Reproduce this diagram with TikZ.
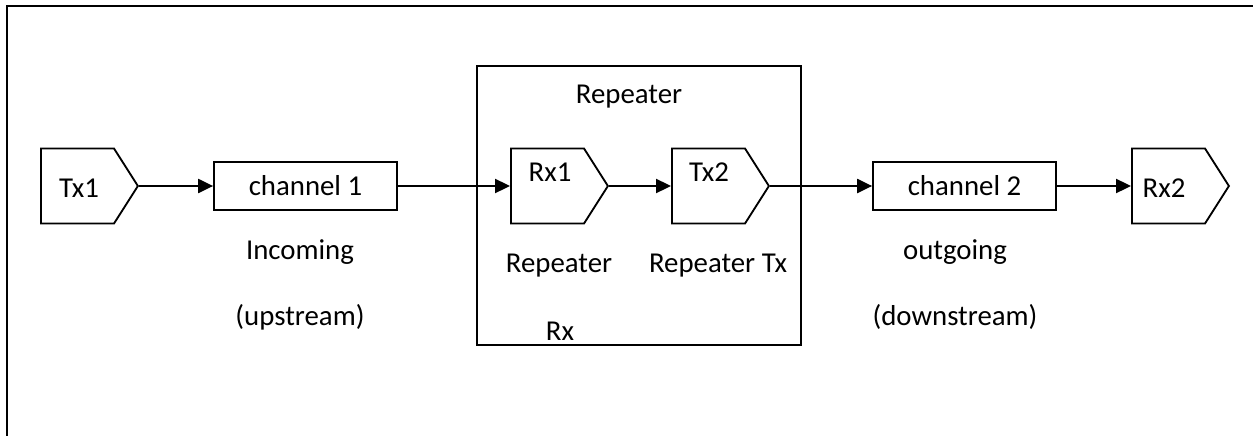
\documentclass[tikz,border=0pt]{standalone}
\usepackage{fontspec}
\setmainfont{Carlito}
\usetikzlibrary{arrows.meta,shapes.symbols}
\newcommand{\lblfont}{\fontsize{16.4}{19.7}\selectfont}

\begin{document}
\begin{tikzpicture}[x=0.02cm,y=-0.02cm,
 sig/.style={signal,signal to=east,signal pointer angle=115,draw,line width=1.05pt,inner sep=0pt,minimum width=1.94cm,minimum height=1.5cm,anchor=west},
 chan/.style={draw,line width=1.05pt,minimum width=3.66cm,minimum height=0.97cm,inner sep=0pt,font=\lblfont},
 txt/.style={anchor=base,inner sep=0pt,font=\lblfont},
 link/.style={line width=1.05pt,-{Triangle[length=8.5pt,width=8pt]}}]
\useasboundingbox (0,0) rectangle (1253,436);
\draw[line width=1.25pt] (1253,6) -- (7,6) -- (7,436);

\node[draw,line width=1.05pt,minimum width=6.48cm,minimum height=5.58cm] (rep) at (639,205.5) {};
\node[txt] (reptitle) at (629,103) {Repeater};

\node[sig] (tx1) at (40,186) {};
\node[chan] (ch1) at (305.5,186) {channel 1};
\node[sig] (rx1) at (510,186) {};
\node[sig] (tx2) at (671,186) {};
\node[chan] (ch2) at (964.5,186) {channel 2};
\node[sig] (rx2) at (1131,186) {};

\node[txt] (tx1l) at (79,197) {Tx1};
\node[txt] (rx1l) at (550,181) {Rx1};
\node[txt] (tx2l) at (709,181) {Tx2};
\node[txt] (rx2l) at (1164,197) {Rx2};

\node[txt] (inc) at (300,259) {Incoming};
\node[txt] (ups) at (300,325) {(upstream)};
\node[txt] (reprx) at (559,272) {Repeater};
\node[txt] (rxl) at (560,340) {Rx};
\node[txt] (reptx) at (718,272) {Repeater Tx};
\node[txt] (out) at (955,259) {outgoing};
\node[txt] (dns) at (955,325) {(downstream)};

\draw[link] (tx1.east) -- (tx1.east -| ch1.west);
\draw[link] (ch1.east) -- (ch1.east -| rx1.west);
\draw[link] (rx1.east) -- (rx1.east -| tx2.west);
\draw[link] (tx2.east) -- (tx2.east -| ch2.west);
\draw[link] (ch2.east) -- (ch2.east -| rx2.west);
\end{tikzpicture}
\end{document}
